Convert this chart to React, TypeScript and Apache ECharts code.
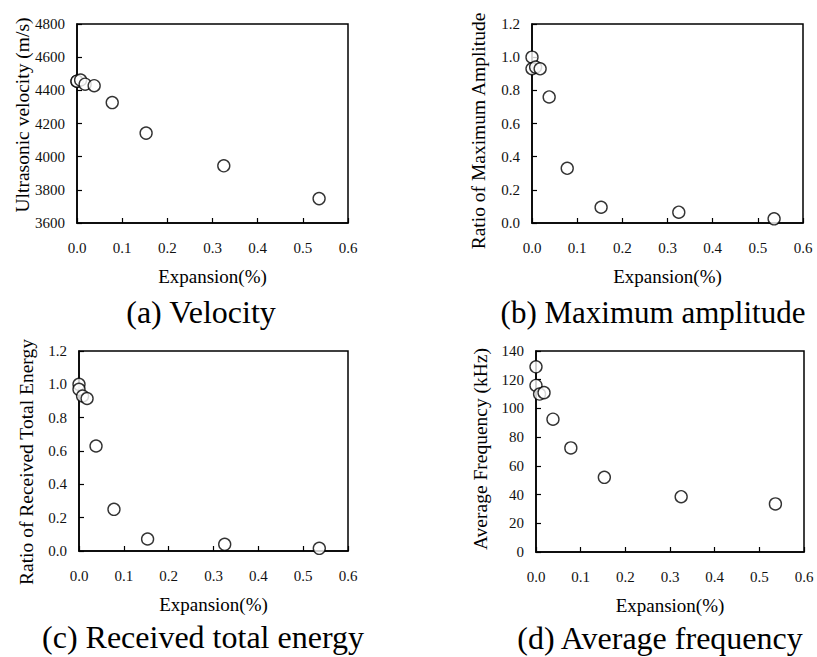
import React, { useEffect, useRef } from "react";
import * as echarts from "echarts";

const expansion = [0, 0, 0.008, 0.018, 0.038, 0.078, 0.153, 0.325, 0.536];
const velocity = [4455, 4455, 4462, 4437, 4428, 4326, 4142, 3945, 3747];
const amplitude = [1.0, 0.93, 0.94, 0.93, 0.76, 0.33, 0.095, 0.065, 0.025];
const energy = [1.0, 0.97, 0.93, 0.915, 0.63, 0.25, 0.072, 0.04, 0.016];
const frequency = [129, 116, 110, 111, 92.5, 72.5, 52, 38.5, 33.5];

const xName = "Expansion(%)";
const yNames = [
  "Ultrasonic velocity (m/s)",
  "Ratio of Maximum Amplitude",
  "Ratio of Received Total Energy",
  "Average Frequency (kHz)",
];
const captions = [
  "(a) Velocity",
  "(b) Maximum amplitude",
  "(c) Received total energy",
  "(d) Average frequency",
];
const yRanges = [
  { min: 3600, max: 4800, interval: 200, digits: 0 },
  { min: 0, max: 1.2, interval: 0.2, digits: 1 },
  { min: 0, max: 1.2, interval: 0.2, digits: 1 },
  { min: 0, max: 140, interval: 20, digits: 0 },
];
const seriesValues = [velocity, amplitude, energy, frequency];

const FONT = "Liberation Serif";

const grids = [
  { left: 77, top: 24, width: 271, height: 199 },
  { left: 532, top: 24, width: 271, height: 199 },
  { left: 79, top: 351, width: 269, height: 200 },
  { left: 536, top: 351, width: 268, height: 201 },
];
const yNamePos = [
  [22, 115],
  [478, 131],
  [26, 462],
  [480, 449],
];
const captionPos = [
  [201, 312],
  [653, 312],
  [203, 637],
  [660, 638],
];
const captionSize = [32, 31, 32, 32];

export default function App() {
  const ref = useRef<HTMLDivElement>(null);
  useEffect(() => {
    if (!ref.current) return;
    const chart = echarts.init(ref.current, undefined, { renderer: "svg" });
    const axisLine = { show: true, lineStyle: { color: "#000", width: 1.5 } };
    const option: any = {
      animation: false,
      backgroundColor: "#fff",
      textStyle: { fontFamily: FONT },
      grid: grids.map((g) => ({
        ...g,
        show: true,
        borderColor: "#000",
        borderWidth: 1.5,
        backgroundColor: "transparent",
      })),
      xAxis: grids.map((_, i) => ({
        type: "value",
        gridIndex: i,
        min: 0,
        max: 0.6,
        interval: 0.1,
        name: xName,
        nameLocation: "middle",
        nameGap: 44,
        nameTextStyle: { fontFamily: FONT, fontSize: 19, color: "#000" },
        axisLine,
        axisTick: { show: true, inside: true, length: 5, lineStyle: { color: "#000", width: 1.2 } },
        splitLine: { show: false },
        axisLabel: {
          margin: 17,
          fontFamily: FONT,
          fontSize: 15,
          color: "#111",
          formatter: (v: number) => v.toFixed(1),
        },
      })),
      yAxis: grids.map((_, i) => ({
        type: "value",
        gridIndex: i,
        min: yRanges[i].min,
        max: yRanges[i].max,
        interval: yRanges[i].interval,
        axisLine,
        axisTick: { show: true, inside: true, length: 5, lineStyle: { color: "#000", width: 1.2 } },
        splitLine: { show: false },
        axisLabel: {
          margin: 12,
          fontFamily: FONT,
          fontSize: 15,
          color: "#111",
          formatter: (v: number) => v.toFixed(yRanges[i].digits),
        },
      })),
      series: seriesValues.map((vals, i) => ({
        type: "scatter",
        xAxisIndex: i,
        yAxisIndex: i,
        clip: false,
        symbol: "circle",
        symbolSize: 12,
        itemStyle: { color: "#fff", borderColor: "#000", borderWidth: 1.4 },
        data: expansion.map((x, k) => [x, vals[k]]),
      })),
      graphic: [
        ...yNames.map((t, i) => ({
          type: "text",
          x: yNamePos[i][0],
          y: yNamePos[i][1],
          rotation: Math.PI / 2,
          style: {
            text: t,
            fontFamily: FONT,
            fontSize: 19.5,
            fill: "#000",
            align: "center",
            verticalAlign: "middle",
          },
        })),
        ...captions.map((t, i) => ({
          type: "text",
          x: captionPos[i][0],
          y: captionPos[i][1],
          style: {
            text: t,
            fontFamily: FONT,
            fontSize: captionSize[i],
            fill: "#000",
            align: "center",
            verticalAlign: "middle",
          },
        })),
      ],
    };
    chart.setOption(option);
    return () => chart.dispose();
  }, []);
  return (
    <div
      ref={ref}
      style={{ position: "absolute", left: 0, top: 0, width: 817, height: 657 }}
    />
  );
}
